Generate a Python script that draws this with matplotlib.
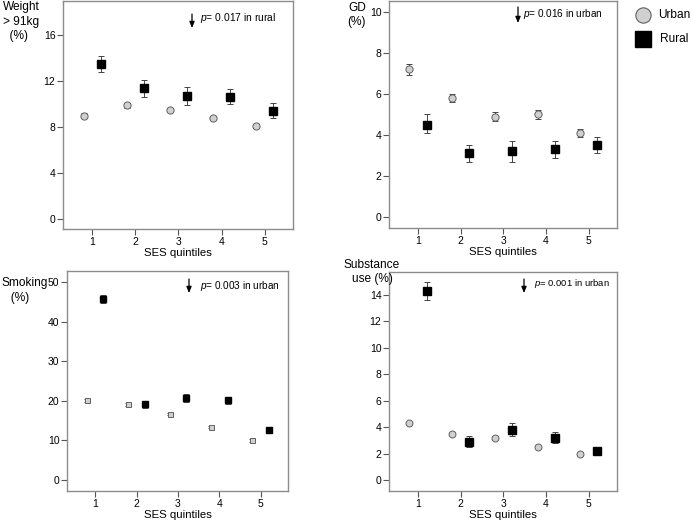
import matplotlib
matplotlib.use("Agg")
import matplotlib.pyplot as plt
import numpy as np

plt.rcParams['font.family'] = ['Liberation Sans', 'DejaVu Sans']
plt.rcParams['mathtext.fontset'] = 'custom'
plt.rcParams['mathtext.it'] = 'Liberation Sans:italic'
plt.rcParams['mathtext.rm'] = 'Liberation Sans'

quintiles = [1, 2, 3, 4, 5]

# Weight > 91kg (%)
weight_urban = [9.0, 9.9, 9.5, 8.8, 8.1]
weight_urban_err = [0.2, 0.2, 0.2, 0.15, 0.15]
weight_rural = [13.5, 11.4, 10.7, 10.6, 9.4]
weight_rural_lo = [12.8, 10.6, 9.9, 10.0, 8.8]
weight_rural_hi = [14.2, 12.1, 11.5, 11.3, 10.1]

# GD (%)
gd_urban = [7.2, 5.8, 4.9, 5.0, 4.1]
gd_urban_err = [0.25, 0.2, 0.2, 0.2, 0.2]
gd_rural = [4.5, 3.1, 3.2, 3.3, 3.5]
gd_rural_lo = [4.1, 2.7, 2.7, 2.9, 3.1]
gd_rural_hi = [5.0, 3.5, 3.7, 3.7, 3.9]

# Smoking (%)
smoke_urban = [20.1, 19.1, 16.6, 13.4, 10.0]
smoke_urban_err = [0.3, 0.3, 0.3, 0.3, 0.3]
smoke_rural = [45.7, 19.1, 20.6, 20.1, 12.7]
smoke_rural_lo = [44.7, 18.2, 19.7, 19.3, 12.1]
smoke_rural_hi = [46.8, 20.0, 21.6, 20.9, 13.3]

# Substance use (%)
subst_urban = [4.3, 3.5, 3.2, 2.5, 2.0]
subst_urban_err = [0.1, 0.1, 0.1, 0.1, 0.1]
subst_rural = [14.3, 2.9, 3.8, 3.2, 2.2]
subst_rural_lo = [13.6, 2.5, 3.3, 2.8, 1.95]
subst_rural_hi = [15.0, 3.3, 4.3, 3.6, 2.4]

W, H = 691, 525
fig = plt.figure(figsize=(W / 100, H / 100), dpi=100)


def px(x, y):
    return x / W, 1 - y / H


def make_axes(left, top, right, bottom):
    return fig.add_axes([left / W, 1 - bottom / H, (right - left) / W, (bottom - top) / H])


def style(ax, ylim, yticks):
    ax.set_xlim(0.32, 5.66)
    ax.set_ylim(*ylim)
    ax.set_xticks(quintiles)
    ax.set_yticks(yticks)
    for s in ax.spines.values():
        s.set_color('#8c8c8c')
        s.set_linewidth(1.0)
    ax.tick_params(direction='out', length=4, width=0.8, color='#555555',
                   labelsize=7.5, pad=1.5)
    ax.set_xlabel('SES quintiles', fontsize=8.2, labelpad=1)


def draw(ax, urban, uerr, rural, lo, hi, urban_marker='o', ums=5.2, rms=5.5):
    xu = np.array(quintiles) - 0.2
    xr = np.array(quintiles) + 0.2
    ax.errorbar(xu, urban, yerr=uerr, fmt='none', ecolor='#444444',
                elinewidth=0.7, capsize=2, capthick=0.7, zorder=2)
    ax.plot(xu, urban, linestyle='none', marker=urban_marker, ms=ums,
            mfc='#d0d0d0', mec='#606060', mew=0.7, zorder=3)
    r = np.array(rural)
    yerr = [r - np.array(lo), np.array(hi) - r]
    ax.errorbar(xr, rural, yerr=yerr, fmt='none', ecolor='#444444',
                elinewidth=0.7, capsize=2, capthick=0.7, zorder=2)
    ax.plot(xr, rural, linestyle='none', marker='s', ms=rms,
            mfc='black', mec='black', zorder=3)


def note(x_arrow, y0, y1, x_text, y_text, text, size=7.4):
    fig.add_artist(matplotlib.patches.FancyArrowPatch(
        px(x_arrow, y0), px(x_arrow, y1), transform=fig.transFigure,
        arrowstyle='-|>,head_length=0.6,head_width=0.25', color='black', lw=0.9,
        mutation_scale=6, shrinkA=0, shrinkB=0))
    fig.text(*px(x_text, y_text), text, fontsize=size, va='center', ha='left')


# Panel 1: weight
ax1 = make_axes(63, 1, 293, 229)
draw(ax1, weight_urban, weight_urban_err, weight_rural, weight_rural_lo, weight_rural_hi)
style(ax1, (-0.9, 19.0), [0, 4, 8, 12, 16])
fig.text(*px(3, 1), 'Weight\n> 91kg\n  (%)', fontsize=8.6, va='top', ha='left',
         linespacing=1.3)
note(192, 14, 28, 200, 18, '$p$= 0.017 in rural', size=7.4)

# Panel 2: GD
ax2 = make_axes(389, 1, 617, 228)
draw(ax2, gd_urban, gd_urban_err, gd_rural, gd_rural_lo, gd_rural_hi)
style(ax2, (-0.54, 10.54), [0, 2, 4, 6, 8, 10])
fig.text(*px(357, 2), 'GD\n(%)', fontsize=8.6, va='top', ha='center',
         linespacing=1.2)
note(518, 7, 23, 523, 14, '$p$= 0.016 in urban', size=7.2)

# Panel 3: smoking
ax3 = make_axes(67, 271, 288, 491)
draw(ax3, smoke_urban, smoke_urban_err, smoke_rural, smoke_rural_lo, smoke_rural_hi,
     urban_marker='s', ums=3.6, rms=4.2)
style(ax3, (-2.8, 52.8), [0, 10, 20, 30, 40, 50])
fig.text(*px(1, 277), 'Smoking\n   (%)', fontsize=8.6, va='top', ha='left',
         linespacing=1.3)
note(189, 279, 293, 200, 286, '$p$= 0.003 in urban', size=7.2)

# Panel 4: substance use
ax4 = make_axes(389, 272, 617, 491)
draw(ax4, subst_urban, subst_urban_err, subst_rural, subst_rural_lo, subst_rural_hi,
     ums=5.0, rms=5.5)
style(ax4, (-0.83, 15.74), [0, 2, 4, 6, 8, 10, 12, 14])
fig.text(*px(372, 259), 'Substance\nuse (%)', fontsize=8.6, va='top', ha='center',
         linespacing=1.2)
note(524, 279, 293, 534, 284, '$p$= 0.001 in urban', size=6.8)

# Legend
fig.add_artist(matplotlib.lines.Line2D([643 / W], [1 - 15 / H], marker='o', ms=11,
                                       mfc='#d0d0d0', mec='#606060', mew=0.8,
                                       transform=fig.transFigure))
fig.add_artist(matplotlib.lines.Line2D([643 / W], [1 - 39 / H], marker='s', ms=11,
                                       mfc='black', mec='black',
                                       transform=fig.transFigure))
fig.text(*px(658, 15), 'Urban', fontsize=8.6, va='center', ha='left')
fig.text(*px(660, 39), 'Rural', fontsize=8.6, va='center', ha='left')

fig.savefig('out.png', dpi=100)
